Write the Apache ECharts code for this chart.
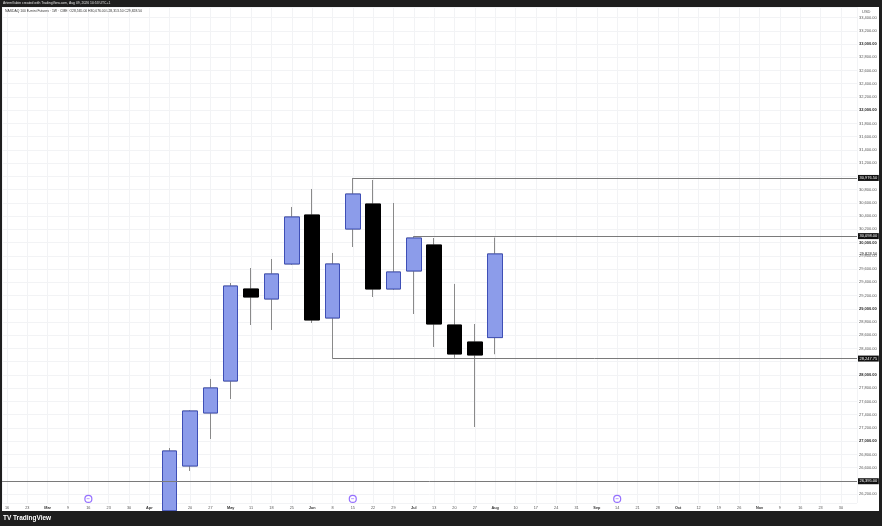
<!DOCTYPE html>
<html lang="en">
<head>
<meta charset="UTF-8">
<title>NASDAQ 100 E-mini Futures 1W</title>
<script src="https://cdn.jsdelivr.net/npm/echarts@6/dist/echarts.min.js"></script>
<style>
    html, body { margin: 0; padding: 0; background: #fff; }
    #main { width: 882px; height: 526px; }
</style>
</head>
<body>
<div id="main"></div>
<script type="text/javascript">
    // weekly bars, Monday dates
    var weeks = ['Feb 16', 'Feb 23', 'Mar 2', 'Mar 9', 'Mar 16', 'Mar 23', 'Mar 30', 'Apr 6', 'Apr 13', 'Apr 20',
        'Apr 27', 'May 4', 'May 11', 'May 18', 'May 25', 'Jun 1', 'Jun 8', 'Jun 15', 'Jun 22', 'Jun 29',
        'Jul 6', 'Jul 13', 'Jul 20', 'Jul 27', 'Aug 3', 'Aug 10', 'Aug 17', 'Aug 24', 'Aug 31', 'Sep 7',
        'Sep 14', 'Sep 21', 'Sep 28', 'Oct 5', 'Oct 12', 'Oct 19', 'Oct 26', 'Nov 2', 'Nov 9', 'Nov 16',
        'Nov 23', 'Nov 30'];
    var tickLabels = ['16', '23', 'Mar', '9', '16', '23', '30', 'Apr', '13', '20',
        '27', 'May', '11', '18', '25', 'Jun', '8', '15', '22', '29',
        'Jul', '13', '20', '27', 'Aug', '10', '17', '24', '31', 'Sep',
        '14', '21', '28', 'Oct', '12', '19', '26', 'Nov', '9', '16',
        '23', '30'];

    var candleDates = ['Apr 13', 'Apr 20', 'Apr 27', 'May 4', 'May 11', 'May 18', 'May 25', 'Jun 1', 'Jun 8',
        'Jun 15', 'Jun 22', 'Jun 29', 'Jul 6', 'Jul 13', 'Jul 20', 'Jul 27', 'Aug 3'];
    var opens  = [25950, 26625, 27426, 27909, 29299, 29148, 29677, 30417, 28861, 30205, 30583, 29299, 29571, 29964, 28755, 28498, 28565];
    var closes = [26852, 27456, 27804, 29344, 29178, 29526, 30387, 28831, 29677, 30734, 29299, 29556, 30069, 28770, 28317, 28302, 29828.5];
    var lows   = [25800, 26550, 27033, 27637, 28755, 28680, 29662, 28785, 28247.75, 29933, 29178, 29284, 28921, 28423, 28260, 27214, 28313.5];
    var highs  = [26897, 27471, 27940, 29390, 29616, 29752, 30538, 30810, 29843, 30976.5, 30946, 30598, 30098, 30069, 29375, 28770, 30076];

    // drawn horizontal levels and the week they start from
    var levelPrices = [30976.5, 30098, 28247.75, 26395];
    var levelFrom = ['Jun 15', 'Jul 6', 'Jun 8', null];

    var expiryWeeks = ['Mar 16', 'Jun 15', 'Sep 14'];

    // visible window
    var priceTop = 33559, priceBottom = 26066;
    var weekLeft = -0.246, weekRight = 41.79;
    var eventRow = 26127;

    function fmt(v) {
        return v.toLocaleString('en-US', {minimumFractionDigits: 2, maximumFractionDigits: 2});
    }

    var myChart = echarts.init(document.getElementById('main'));

    var wickData = candleDates.map(function (d, i) {
        return [weeks.indexOf(d), opens[i], closes[i], lows[i], highs[i]];
    });
    var bodyData = candleDates.map(function (d, i) {
        return [weeks.indexOf(d), opens[i], closes[i], Math.min(opens[i], closes[i]), Math.max(opens[i], closes[i])];
    });

    var levelLines = levelPrices.map(function (p, i) {
        var from = levelFrom[i] ? weeks.indexOf(levelFrom[i]) : weekLeft;
        return [{name: fmt(p), coord: [from, p]}, {coord: [weekRight, p]}];
    });
    var lastPrice = closes[closes.length - 1];
    levelLines.push([
        {name: fmt(lastPrice), coord: [weekRight - 0.05, lastPrice], lineStyle: {color: 'rgba(0,0,0,0)'},
            label: {backgroundColor: 'rgba(0,0,0,0)', color: '#2b2b2b'}},
        {coord: [weekRight, lastPrice]}
    ]);

    var n = opens.length - 1;
    var legendText = 'NASDAQ 100 E-mini Futures · 1W · CME  O' + fmt(opens[n]) + ' H' + fmt(highs[n]) +
        ' L' + fmt(lows[n]) + ' C' + fmt(closes[n]);

    var font = 'Liberation Sans';

    myChart.setOption({
        backgroundColor: '#ffffff',
        animation: false,
        grid: {left: 2, right: 25, top: 7, bottom: 23},
        xAxis: {
            type: 'value',
            min: weekLeft,
            max: weekRight,
            splitNumber: 42,
            minInterval: 1,
            maxInterval: 1,
            axisLine: {show: false},
            axisTick: {show: false},
            splitLine: {lineStyle: {color: '#f2f3f5', width: 1}},
            axisLabel: {
                margin: 3,
                fontSize: 3.8,
                fontFamily: font,
                color: '#555',
                showMinLabel: false,
                showMaxLabel: false,
                formatter: function (v) {
                    if (!Number.isInteger(v) || !tickLabels[v]) return '';
                    var t = tickLabels[v];
                    return /^[A-Z]/.test(t) ? '{b|' + t + '}' : t;
                },
                rich: {b: {fontWeight: 'bold', fontSize: 3.8, fontFamily: font, color: '#333'}}
            }
        },
        yAxis: {
            type: 'value',
            position: 'right',
            min: priceBottom,
            max: priceTop,
            splitNumber: 37,
            minInterval: 200,
            maxInterval: 200,
            axisLine: {show: false},
            axisTick: {show: false},
            splitLine: {lineStyle: {color: '#f2f3f5', width: 1}},
            axisLabel: {
                margin: 2,
                fontSize: 4,
                fontFamily: font,
                color: '#555',
                showMinLabel: false,
                showMaxLabel: false,
                formatter: function (v) {
                    if (v % 200 !== 0) return '';
                    for (var i = 0; i < levelPrices.length; i++) {
                        if (Math.abs(levelPrices[i] - v) < 80) return '';
                    }
                    return v % 1000 === 0 ? '{b|' + fmt(v) + '}' : fmt(v);
                },
                rich: {b: {fontWeight: 'bold', fontSize: 4, fontFamily: font, color: '#222'}}
            }
        },
        series: [
            {
                // wicks
                type: 'candlestick',
                data: wickData,
                encode: {x: 0, y: [1, 2, 3, 4]},
                barWidth: 15,
                clip: true,
                itemStyle: {color: '#8c9cea', color0: '#000000', borderColor: '#8a8a8a', borderColor0: '#8a8a8a', borderWidth: 1}
            },
            {
                // bodies
                type: 'candlestick',
                data: bodyData,
                encode: {x: 0, y: [1, 2, 3, 4]},
                barWidth: 15,
                clip: true,
                itemStyle: {color: '#8c9cea', color0: '#000000', borderColor: '#3e4fb6', borderColor0: '#000000', borderWidth: 1}
            },
            {
                type: 'line',
                data: [],
                clip: false,
                markLine: {
                    silent: true,
                    symbol: ['none', 'none'],
                    lineStyle: {color: '#7a7a7a', width: 1, type: 'solid'},
                    label: {
                        position: 'end',
                        distance: 1,
                        fontSize: 4,
                        fontFamily: font,
                        color: '#ffffff',
                        backgroundColor: '#111111',
                        padding: [1, 1.5],
                        formatter: '{b}'
                    },
                    data: levelLines
                }
            },
            {
                type: 'scatter',
                data: expiryWeeks.map(function (d) { return [weeks.indexOf(d), eventRow]; }),
                symbol: 'circle',
                symbolSize: 7,
                silent: true,
                itemStyle: {color: '#ffffff', borderColor: '#7c4dff', borderWidth: 1.2},
                label: {show: true, position: 'inside', formatter: '−', fontSize: 6, color: '#7c4dff', fontWeight: 'bold'},
                z: 5
            }
        ],
        graphic: [
            {type: 'rect', z: 100, shape: {x: 0, y: 0, width: 882, height: 7}, style: {fill: '#1e1e1e'}},
            {type: 'rect', z: 100, shape: {x: 0, y: 0, width: 2, height: 526}, style: {fill: '#1e1e1e'}},
            {type: 'rect', z: 100, shape: {x: 879, y: 0, width: 3, height: 526}, style: {fill: '#1e1e1e'}},
            {type: 'rect', z: 100, shape: {x: 0, y: 511, width: 882, height: 15}, style: {fill: '#1e1e1e'}},
            {type: 'text', z: 101, x: 3, y: 3.5, style: {text: 'ArtemGubin created with TradingView.com, Aug 09, 2026 10:53 UTC+1',
                fill: '#e0e0e0', fontSize: 3.4, fontFamily: font, verticalAlign: 'middle'}},
            {type: 'text', z: 101, x: 5, y: 11, style: {text: legendText,
                fill: '#333', fontSize: 3.4, fontFamily: font, verticalAlign: 'middle'}},
            {type: 'text', z: 101, x: 862, y: 12, style: {text: 'USD',
                fill: '#555', fontSize: 4, fontFamily: font, verticalAlign: 'middle'}},
            {type: 'text', z: 101, x: 3, y: 518.5, style: {text: 'TV', fill: '#ffffff', fontSize: 6.5,
                fontWeight: 'bold', fontFamily: font, verticalAlign: 'middle'}},
            {type: 'text', z: 101, x: 13, y: 518.5, style: {text: 'TradingView', fill: '#ffffff', fontSize: 6.5,
                fontWeight: 'bold', fontFamily: font, verticalAlign: 'middle'}}
        ]
    });
</script>
</body>
</html>
